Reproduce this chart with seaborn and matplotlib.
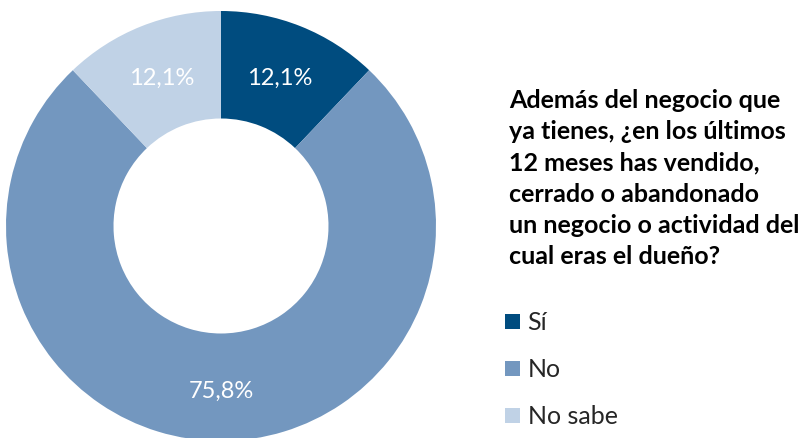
import matplotlib.pyplot as plt
import numpy as np
import seaborn as sns

categorias = ['Sí', 'No', 'No sabe']
valores = [12.1, 75.8, 12.1]
etiquetas = ['12,1%', '75,8%', '12,1%']
colores = ['#004C7F', '#7397BF', '#C0D2E6']
titulo = ('Además del negocio que\nya tienes, ¿en los últimos\n12 meses has vendido,\n'
          'cerrado o abandonado\nun negocio o actividad del\ncual eras el dueño?')

sns.set_theme(style='white')
plt.rcParams['font.family'] = ['Lato', 'DejaVu Sans']

fig = plt.figure(figsize=(8.07, 4.38), dpi=100)
# donut centrado en (221, 226) px, radio 215 px
ax = fig.add_axes([(221 - 215) / 807, (438 - 226 - 215) / 438, 430 / 807, 430 / 438])
wedges, _ = ax.pie(valores, colors=colores, startangle=90, counterclock=False,
                   radius=1.0, wedgeprops=dict(width=0.5, edgecolor='none'))
dist = [0.74, 0.77, 0.74]
for w, txt, d in zip(wedges, etiquetas, dist):
    ang = np.deg2rad((w.theta1 + w.theta2) / 2)
    ax.text(d * np.cos(ang), d * np.sin(ang), txt, ha='center', va='center',
            color='white', fontsize=17)
ax.set_xlim(-1, 1)
ax.set_ylim(-1, 1)
ax.set_aspect('equal')
ax.axis('off')

fig.text(509 / 807, 1 - 89 / 438, titulo, ha='left', va='top', fontsize=18,
         fontweight='bold', color='black', linespacing=1.43)

fig.legend(wedges, categorias, loc='upper left', bbox_to_anchor=(505 / 807, 1 - 311 / 438),
           frameon=False, fontsize=18, labelspacing=0.96, handlelength=0.6,
           handleheight=0.55, handletextpad=0.3, borderpad=0, borderaxespad=0)

fig.savefig('out.png', dpi=100)
